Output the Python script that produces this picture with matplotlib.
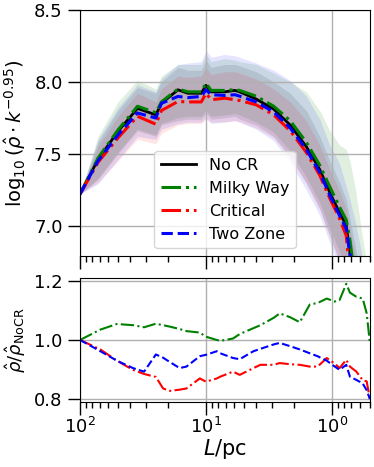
import numpy as np
import matplotlib
matplotlib.use("Agg")
import matplotlib.pyplot as plt

#%% data

L = [100, 72, 50, 35, 25, 22.6, 16.7, 13.9, 10.9, 10.0, 9.1, 7.1, 5.9, 5.4,
     4.0, 2.9, 2.15, 1.6, 1.25, 1.04, 0.87, 0.77, 0.72, 0.65, 0.58, 0.5]

nocr = [7.22, 7.46, 7.655, 7.815, 7.77, 7.85, 7.944, 7.92, 7.92, 7.975, 7.93, 7.93, 7.94, 7.93,
        7.88, 7.81, 7.70, 7.55, 7.39, 7.23, 7.09, 7.00, 6.81, 6.55, 6.3, 6.0]
mw = [7.22, 7.47, 7.665, 7.83, 7.785, 7.86, 7.95, 7.93, 7.93, 7.99, 7.94, 7.94, 7.945, 7.94,
      7.90, 7.83, 7.73, 7.58, 7.42, 7.27, 7.13, 7.04, 6.90, 6.6, 6.4, 6.1]
crit = [7.22, 7.44, 7.61, 7.76, 7.705, 7.80, 7.863, 7.86, 7.86, 7.92, 7.875, 7.886, 7.875, 7.87,
        7.84, 7.77, 7.66, 7.51, 7.35, 7.19, 7.05, 6.93, 6.65, 6.45, 6.25, 6.0]
twoz = [7.22, 7.45, 7.63, 7.783, 7.748, 7.85, 7.898, 7.89, 7.898, 7.944, 7.91, 7.905, 7.91, 7.90,
        7.86, 7.79, 7.68, 7.53, 7.37, 7.21, 7.07, 6.98, 6.80, 6.5, 6.25, 6.0]

nocr_hi = [7.22, 7.58, 7.80, 7.96, 7.92, 8.0, 8.10, 8.08, 8.08, 8.15, 8.10, 8.12, 8.12, 8.11,
           8.07, 8.0, 7.92, 7.80, 7.62, 7.45, 7.30, 7.18, 7.05, 6.85, 6.6, 6.3]
nocr_lo = [7.22, 7.32, 7.50, 7.66, 7.62, 7.70, 7.73, 7.74, 7.74, 7.78, 7.74, 7.75, 7.76, 7.74,
           7.70, 7.62, 7.48, 7.30, 7.12, 6.93, 6.75, 6.6, 6.5, 6.3, 6.1, 5.9]
mw_hi = [7.22, 7.62, 7.86, 8.01, 7.95, 8.04, 8.12, 8.12, 8.12, 8.19, 8.14, 8.16, 8.15, 8.14,
         8.12, 8.06, 8.00, 7.93, 7.80, 7.66, 7.56, 7.53, 7.45, 7.25, 6.95, 6.6]
mw_lo = [7.22, 7.33, 7.51, 7.67, 7.63, 7.71, 7.75, 7.76, 7.76, 7.80, 7.76, 7.77, 7.78, 7.77,
         7.72, 7.65, 7.52, 7.34, 7.16, 6.98, 6.82, 6.68, 6.55, 6.35, 6.15, 5.9]
crit_hi = [7.22, 7.55, 7.76, 7.92, 7.86, 7.95, 8.04, 8.03, 8.04, 8.10, 8.05, 8.07, 8.07, 8.06,
           8.02, 7.95, 7.86, 7.73, 7.56, 7.39, 7.24, 7.12, 6.98, 6.78, 6.5, 6.2]
crit_lo = [7.22, 7.30, 7.45, 7.60, 7.57, 7.64, 7.70, 7.71, 7.71, 7.74, 7.72, 7.72, 7.73, 7.72,
           7.68, 7.61, 7.47, 7.29, 7.11, 6.92, 6.74, 6.6, 6.5, 6.3, 6.1, 5.9]
twoz_hi = [7.22, 7.60, 7.82, 7.98, 7.93, 8.02, 8.12, 8.13, 8.14, 8.22, 8.17, 8.19, 8.18, 8.17,
           8.13, 8.08, 8.01, 7.90, 7.74, 7.56, 7.43, 7.27, 7.18, 7.02, 6.8, 6.5]
twoz_lo = [7.22, 7.29, 7.46, 7.62, 7.60, 7.67, 7.71, 7.72, 7.72, 7.75, 7.71, 7.72, 7.73, 7.72,
           7.67, 7.59, 7.44, 7.25, 7.07, 6.88, 6.70, 6.55, 6.45, 6.25, 6.05, 5.85]

Lb = [100, 69, 51, 38, 31, 25, 21.9, 19.3, 16.2, 14.3, 11.2, 10, 8.2, 7.7, 6.1, 5.4, 4.2,
      3.7, 2.9, 2.6, 2.15, 1.8, 1.5, 1.3, 1.1, 0.95, 0.87, 0.77, 0.72, 0.64, 0.57, 0.53, 0.5]
mw_r = [1.0, 1.035, 1.054, 1.05, 1.043, 1.055, 1.05, 1.045, 1.037, 1.03, 1.025, 1.011, 1.0,
        0.997, 1.005, 1.02, 1.04, 1.05, 1.075, 1.09, 1.077, 1.06, 1.12, 1.125, 1.14, 1.13,
        1.135, 1.19, 1.16, 1.146, 1.14, 1.09, 0.99]
twoz_r = [1.0, 0.962, 0.93, 0.905, 0.893, 0.951, 0.94, 0.925, 0.905, 0.91, 0.945, 0.95, 0.962,
          0.955, 0.939, 0.935, 0.962, 0.97, 0.985, 0.99, 0.979, 0.968, 0.955, 0.945, 0.93,
          0.91, 0.899, 0.916, 0.876, 0.865, 0.853, 0.83, 0.80]
crit_r = [1.0, 0.968, 0.93, 0.899, 0.885, 0.875, 0.836, 0.828, 0.832, 0.836, 0.87, 0.859, 0.87,
          0.876, 0.893, 0.882, 0.905, 0.916, 0.916, 0.922, 0.918, 0.916, 0.91, 0.91, 0.939,
          0.92, 0.905, 0.933, 0.91, 0.893, 0.864, 0.86, 0.80]

#%% plot

fig = plt.figure(figsize=(3.74, 4.67), dpi=100)
ax1 = fig.add_axes([0.214, 0.452, 0.775, 0.527])
ax2 = fig.add_axes([0.214, 0.139, 0.775, 0.266])

ax1.fill_between(L, nocr_lo, nocr_hi, color='k', alpha=0.1, lw=0)
ax1.fill_between(L, mw_lo, mw_hi, color='g', alpha=0.12, lw=0)
ax1.fill_between(L, crit_lo, crit_hi, color='r', alpha=0.1, lw=0)
ax1.fill_between(L, twoz_lo, twoz_hi, color='b', alpha=0.1, lw=0)

ax1.plot(L, nocr, 'k-', lw=2, label='No CR')
ax1.plot(L, mw, color='g', ls='-.', lw=2.2, label='Milky Way')
ax1.plot(L, crit, color='r', ls='-.', lw=2.2, label='Critical')
ax1.plot(L, twoz, color='b', ls='--', lw=2.2, label='Two Zone')

ax2.plot(Lb, mw_r, color='g', ls='-.', lw=1.5)
ax2.plot(Lb, crit_r, color='r', ls='-.', lw=1.5)
ax2.plot(Lb, twoz_r, color='b', ls='--', lw=1.5)

for ax in (ax1, ax2):
    ax.set_xscale('log')
    ax.set_xlim(100, 0.5)
    ax.grid(True, color='#b0b0b0', lw=1)
    ax.tick_params(which='major', length=9, width=1, labelsize=13)
    ax.tick_params(which='minor', length=4.5, width=1)

ax1.set_ylim(6.79, 8.5)
ax1.set_yticks([7.0, 7.5, 8.0, 8.5])
ax1.tick_params(axis='x', labelbottom=False)
ax1.set_ylabel(r'$\log_{10}(\hat{\rho}\cdot k^{-0.95})$', fontsize=14)
ax1.legend(loc='lower center', fontsize=11.5, framealpha=0.8, handlelength=2.2)

ax2.set_ylim(0.79, 1.21)
ax2.set_yticks([0.8, 1.0, 1.2])
ax2.tick_params(axis='x', which='major', pad=1.5)
ax2.set_ylabel(r'$\hat{\rho}/\hat{\rho}_{\rm NoCR}$', fontsize=13)
ax2.set_xlabel(r'$L/{\rm pc}$', fontsize=15, labelpad=0)

fig.savefig('out.png', dpi=100)
